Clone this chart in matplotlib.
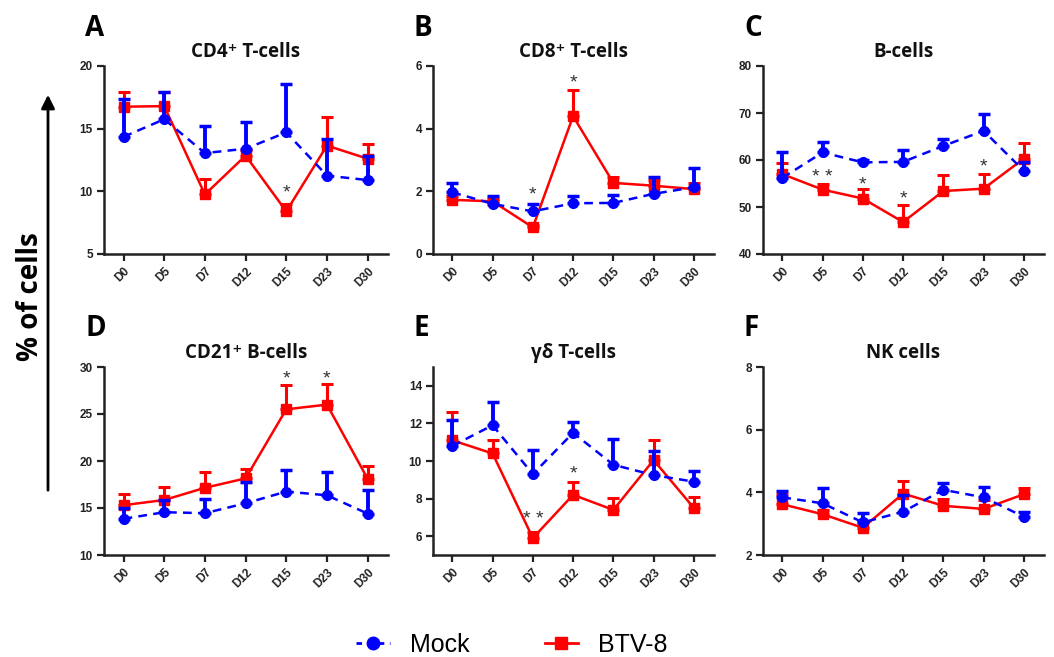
"""
	Lymphocyte subsets over time, Mock vs BTV-8 (mean + upper error bar).
"""

import matplotlib
matplotlib.use("Agg")
import matplotlib.pyplot as plt
from matplotlib.lines import Line2D
from matplotlib.transforms import offset_copy

days = ["D0", "D5", "D7", "D12", "D15", "D23", "D30"]

# A - CD4+ T-cells
cd4_mock = [14.35, 15.75, 13.05, 13.4, 14.7, 11.25, 10.9]
cd4_mock_top = [17.4, 17.9, 15.2, 15.5, 18.55, 14.2, 12.8]
cd4_btv = [16.75, 16.8, 9.75, 12.85, 8.4, 13.65, 12.6]
cd4_btv_top = [17.9, 17.9, 11.0, 13.3, 9.0, 15.9, 13.75]

# B - CD8+ T-cells
cd8_mock = [1.97, 1.6, 1.36, 1.62, 1.63, 1.92, 2.13]
cd8_mock_top = [2.28, 1.84, 1.6, 1.85, 1.87, 2.45, 2.74]
cd8_btv = [1.73, 1.68, 0.85, 4.4, 2.27, 2.18, 2.07]
cd8_btv_top = [1.85, 1.75, 0.92, 5.25, 2.47, 2.35, 2.28]

# C - B-cells
b_mock = [56.2, 61.6, 59.5, 59.6, 63.0, 66.2, 57.7]
b_mock_top = [61.6, 63.9, 59.9, 62.2, 64.4, 69.8, 59.5]
b_btv = [57.0, 53.7, 51.8, 46.8, 53.4, 53.9, 60.3]
b_btv_top = [59.4, 54.8, 53.9, 50.5, 56.8, 57.1, 63.7]

# D - CD21+ B-cells
cd21_mock = [13.85, 14.55, 14.45, 15.5, 16.75, 16.35, 14.4]
cd21_mock_top = [15.0, 15.9, 16.0, 17.8, 19.0, 18.8, 16.9]
cd21_btv = [15.3, 15.85, 17.15, 18.15, 25.5, 26.0, 18.1]
cd21_btv_top = [16.45, 17.2, 18.8, 19.1, 28.05, 28.15, 19.5]

# E - gamma delta T-cells
gd_mock = [10.8, 11.9, 9.3, 11.5, 9.8, 9.25, 8.9]
gd_mock_top = [12.2, 13.15, 10.6, 12.05, 11.15, 10.55, 9.47]
gd_btv = [11.1, 10.4, 5.9, 8.2, 7.4, 10.05, 7.5]
gd_btv_top = [12.6, 11.1, 6.25, 8.9, 8.05, 11.1, 8.1]

# F - NK cells
nk_mock = [3.84, 3.65, 3.04, 3.38, 4.08, 3.84, 3.22]
nk_mock_top = [4.05, 4.15, 3.35, 3.92, 4.3, 4.18, 3.38]
nk_btv = [3.62, 3.3, 2.87, 3.96, 3.57, 3.47, 3.94]
nk_btv_top = [3.94, 3.45, 3.05, 4.36, 3.8, 3.77, 4.15]

# significance marks: (day index, y, text)
cd4_stars = [(4, 10.2, "*")]
cd8_stars = [(2, 2.0, "*"), (3, 5.6, "*")]
b_stars = [(1, 57.2, "* *"), (2, 55.6, "*"), (3, 52.5, "*"), (5, 59.4, "*")]
cd21_stars = [(4, 29.1, "*"), (5, 29.1, "*")]
gd_stars = [(2, 7.1, "* *"), (3, 9.5, "*")]
nk_stars = []

panels = [
	("A", "CD4\u207a T-cells", cd4_mock, cd4_mock_top, cd4_btv, cd4_btv_top, cd4_stars, (5, 20), [5, 10, 15, 20]),
	("B", "CD8\u207a T-cells", cd8_mock, cd8_mock_top, cd8_btv, cd8_btv_top, cd8_stars, (0, 6), [0, 2, 4, 6]),
	("C", "B-cells", b_mock, b_mock_top, b_btv, b_btv_top, b_stars, (40, 80), [40, 50, 60, 70, 80]),
	("D", "CD21\u207a B-cells", cd21_mock, cd21_mock_top, cd21_btv, cd21_btv_top, cd21_stars, (10, 30), [10, 15, 20, 25, 30]),
	("E", "\u03b3\u03b4 T-cells", gd_mock, gd_mock_top, gd_btv, gd_btv_top, gd_stars, (5, 15), [6, 8, 10, 12, 14]),
	("F", "NK cells", nk_mock, nk_mock_top, nk_btv, nk_btv_top, nk_stars, (2, 8), [2, 4, 6, 8]),
]

BLUE = "#0000ff"
RED = "#ff0000"
AX_COL = "#222222"
TITLE_FONT = ["Open Sans", "DejaVu Sans"]
TICK_FONT = ["Liberation Sans", "DejaVu Sans"]

W, H = 1054, 657
fig = plt.figure(figsize=(W / 100, H / 100), dpi=100)

lefts = [104, 433, 763]
widths = [284, 281, 281]
tops = [66, 367]
ax_h = 188


def add_axes_px(l, t, w, h):
	return fig.add_axes([l / W, 1 - (t + h) / H, w / W, h / H])


x = list(range(len(days)))
for i, (letter, title, m, m_top, b, b_top, stars, ylim, yticks) in enumerate(panels):
	row, col = divmod(i, 3)
	ax = add_axes_px(lefts[col], tops[row], widths[col], ax_h)

	b_err = [[0] * len(b), [t - v for t, v in zip(b_top, b)]]
	m_err = [[0] * len(m), [t - v for t, v in zip(m_top, m)]]
	ax.errorbar(x, b, yerr=b_err, color=RED, lw=1.8, marker="s", ms=7,
				elinewidth=2.2, capsize=4, capthick=2.2, zorder=3, clip_on=False)
	ax.errorbar(x, m, yerr=m_err, color=BLUE, lw=1.8, ls=(0, (3.5, 2.5)), marker="o", ms=7,
				elinewidth=2.8, capsize=4, capthick=2.5, zorder=4, clip_on=False)

	star_tr = offset_copy(ax.transData, fig=fig, y=-4, units="dots")
	for idx, yv, s in stars:
		ax.text(idx, yv, s, ha="center", va="center", fontsize=14, color="#333333",
				family=TICK_FONT, transform=star_tr)

	ax.set_xlim(-0.48, 6.5)
	ax.set_ylim(*ylim)
	ax.set_yticks(yticks)
	ax.set_xticks(x)
	ax.set_xticklabels(days, rotation=45, ha="right", rotation_mode="anchor")
	for sp in ["top", "right"]:
		ax.spines[sp].set_visible(False)
	for sp in ["left", "bottom"]:
		ax.spines[sp].set_linewidth(1.8)
		ax.spines[sp].set_color(AX_COL)
	ax.tick_params(length=5, width=1.6, color=AX_COL, pad=3)
	for lab in ax.get_xticklabels() + ax.get_yticklabels():
		lab.set_family(TICK_FONT)
		lab.set_fontweight("bold")
		lab.set_fontsize(8.5)
		lab.set_color(AX_COL)

	ax.text(0.5, 1 + 14 / ax_h, title, transform=ax.transAxes, ha="center", va="center",
			fontsize=13.5, fontweight="bold", family=TITLE_FONT, color="#111111")
	fig.text((lefts[col] - 19) / W, 1 - (28 + row * 301) / H, letter, ha="left", va="center",
			 fontsize=20, fontweight="bold", family=TITLE_FONT, color="black")

# common y label with arrow
fig.text(30 / W, 1 - 297 / H, "% of cells", rotation=90, ha="center", va="center",
		 fontsize=20, fontweight="bold", family=TITLE_FONT)
fig.patches.append(matplotlib.patches.FancyArrowPatch(
	(48 / W, 1 - 493 / H), (48 / W, 1 - 92 / H), transform=fig.transFigure,
	arrowstyle="-|>,head_length=8,head_width=4", lw=2, color="black", mutation_scale=1))

handles = [
	Line2D([], [], color=BLUE, lw=2, ls=(0, (2, 2)), marker="o", ms=9),
	Line2D([], [], color=RED, lw=2, marker="s", ms=9),
]
fig.legend(handles, ["Mock", "BTV-8"], loc="center", bbox_to_anchor=(512 / W, 1 - 645 / H),
		   ncol=2, frameon=False, handlelength=1.35, handletextpad=0.8, columnspacing=3.0,
		   prop={"family": TICK_FONT, "size": 18})

plt.savefig("out.png", dpi=100)
plt.close()
